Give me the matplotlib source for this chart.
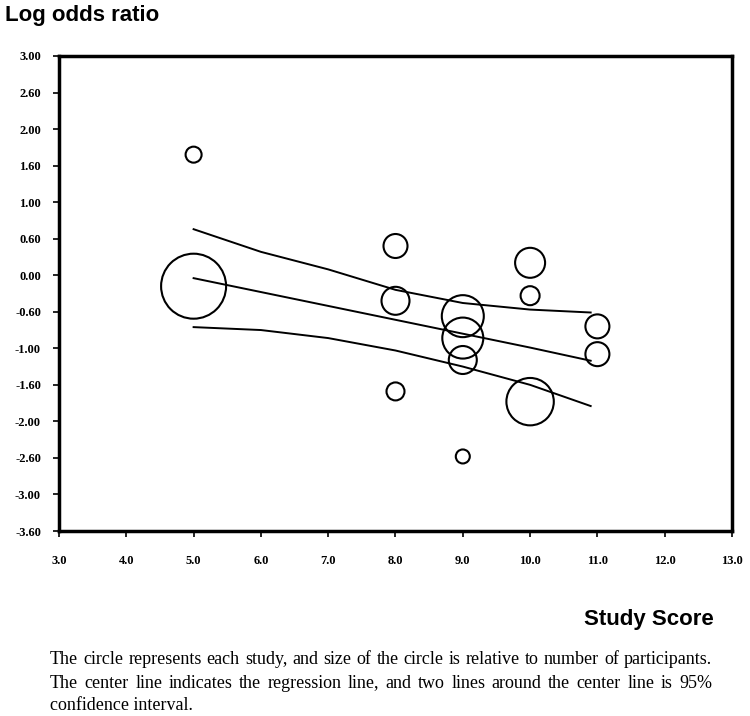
import numpy as np
import matplotlib
matplotlib.use("Agg")
import matplotlib.pyplot as plt

# study points: score, log odds ratio, relative circle size (~ participants)
score = [5.0, 5.0, 8.0, 8.0, 8.0, 9.0, 9.0, 9.0, 9.0, 10.0, 10.0, 10.0, 11.0, 11.0]
log_or = [1.65, -0.15, 0.40, -0.35, -1.59, -0.56, -0.86, -1.16, -2.48, 0.17, -0.28, -1.73, -0.70, -1.08]
rel_size = [8, 32.5, 12, 14, 9, 21, 20.5, 14, 7, 15, 9.5, 23.7, 12, 12]

# regression line and 95% CI
line_x = [5.0, 6.0, 7.0, 8.0, 9.0, 10.0, 10.9]
center = [-0.04, -0.23, -0.42, -0.61, -0.80, -0.99, -1.17]
upper = [0.63, 0.32, 0.08, -0.20, -0.38, -0.47, -0.51]
lower = [-0.71, -0.75, -0.86, -1.03, -1.25, -1.50, -1.79]

yticks = [3.0, 2.5, 2.0, 1.5, 1.0, 0.5, 0.0, -0.5, -1.0, -1.5, -2.0, -2.5, -3.0, -3.5]
ytick_labels = ["3.00", "2.60", "2.00", "1.60", "1.00", "0.60", "0.00",
                "-0.60", "-1.00", "-1.60", "-2.00", "-2.60", "-3.00", "-3.60"]
xticks = [3.0, 4.0, 5.0, 6.0, 7.0, 8.0, 9.0, 10.0, 11.0, 12.0, 13.0]

caption = ["The circle represents each study, and size of the circle is relative to number of participants.",
           "The center line indicates the regression line, and two lines around the center line is 95%",
           "confidence interval."]

fig = plt.figure(figsize=(7.5, 7.16), dpi=100)
ax = fig.add_axes([59/750, 1-531/716, (732-59)/750, (531-56)/716])

# circle radius in px -> marker area in points^2
s = [(2*r*0.72)**2 for r in rel_size]
ax.scatter(score, log_or, s=s, facecolors="none", edgecolors="black", linewidths=1.5, zorder=3)

ax.plot(line_x, center, color="black", lw=1.4)
ax.plot(line_x, upper, color="black", lw=1.4)
ax.plot(line_x, lower, color="black", lw=1.4)

ax.set_xlim(3, 13)
ax.set_ylim(-3.5, 3.0)
ax.set_xticks(xticks)
ax.set_xticklabels(["%.1f" % v for v in xticks])
ax.set_yticks(yticks)
ax.set_yticklabels(ytick_labels)
for lab in ax.get_xticklabels() + ax.get_yticklabels():
    lab.set_family("Liberation Serif")
    lab.set_fontweight("bold")
    lab.set_fontsize(9)
ax.tick_params(direction="out", length=4, width=1.2, color="black")
ax.tick_params(axis="x", pad=13)
ax.tick_params(axis="y", pad=9)
for sp in ax.spines.values():
    sp.set_linewidth(2.5)

fig.text(5/750, 1-16/716, "Log odds ratio", family="Liberation Sans", fontweight="bold",
         fontsize=16, ha="left", va="center")
fig.text(714/750, 1-620/716, "Study Score", family="Liberation Sans", fontweight="bold",
         fontsize=16, ha="right", va="center")

# caption, first two lines justified between x=50 and x=712
fig.canvas.draw()
renderer = fig.canvas.get_renderer()
left, right = 50, 712
for i, line in enumerate(caption):
    y = 1 - (660 + 23*i)/716
    if i == len(caption) - 1:
        fig.text(left/750, y, line, family="Liberation Serif", fontsize=13, ha="left", va="center")
        continue
    words = line.split(" ")
    objs = [fig.text(0, y, w, family="Liberation Serif", fontsize=13, ha="left", va="center") for w in words]
    widths = [o.get_window_extent(renderer).width for o in objs]
    gap = (right - left - sum(widths)) / (len(words) - 1)
    x = left
    for o, w in zip(objs, widths):
        o.set_x(x/750)
        x += w + gap

fig.savefig("out.png", dpi=100)
